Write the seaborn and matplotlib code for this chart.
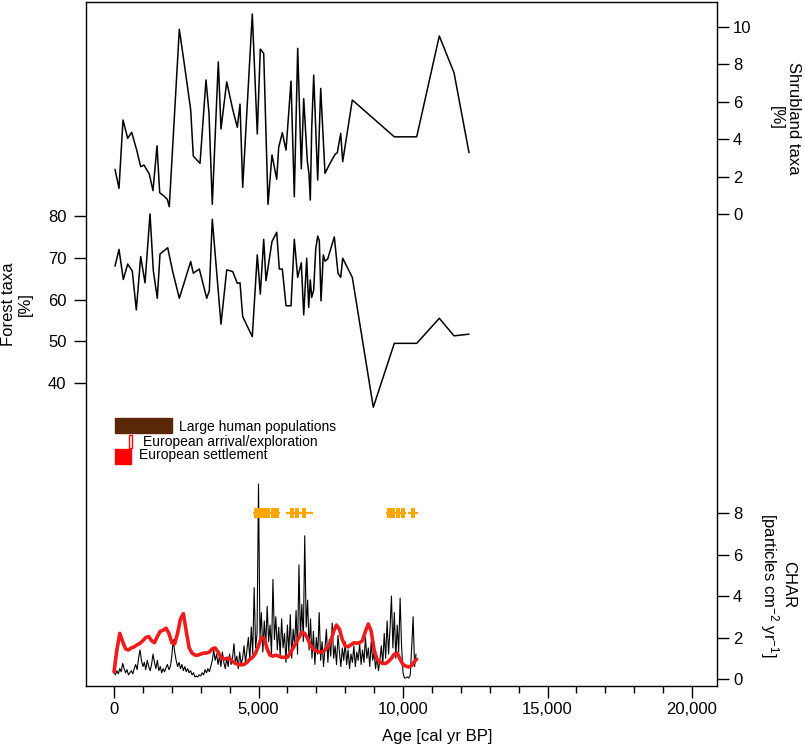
import numpy as np
import matplotlib
matplotlib.use("Agg")
import matplotlib.pyplot as plt
import seaborn as sns
from matplotlib.patches import Rectangle
from matplotlib.ticker import MultipleLocator, FuncFormatter

# ---------------- data ----------------
shrub_age = [35, 173, 311, 474, 612, 785, 924, 1038, 1221, 1349,
             1488, 1581, 1730, 1844, 1913, 2260, 2446, 2654, 2744, 2976,
             3183, 3287, 3401, 3609, 3702, 3900, 4107, 4266, 4360, 4453,
             4785, 4958, 5062, 5180, 5329, 5467, 5630, 5699, 5824, 5952,
             6125, 6239, 6356, 6481, 6564, 6689, 6747, 6792, 6841, 6910,
             7048, 7152, 7301, 7474, 7657, 7727, 7844, 7913, 8246, 9699,
             10474, 11256, 11765, 12284]
shrub_pct = [2.39, 1.37, 5.03, 4.05, 4.37, 3.42, 2.53, 2.62, 2.14, 1.25,
             3.65, 1.14, 0.96, 0.79, 0.39, 9.88, 7.88, 5.56, 3.10, 2.71,
             7.17, 5.39, 0.52, 8.14, 4.55, 7.07, 5.60, 4.64, 5.88, 1.43,
             10.70, 4.28, 8.82, 8.59, 0.52, 3.16, 1.86, 3.57, 4.35, 3.42,
             7.11, 0.93, 8.86, 2.42, 6.17, 2.85, 2.14, 0.75, 4.58, 7.43,
             1.82, 6.72, 2.18, 2.71, 3.21, 3.28, 4.32, 2.80, 6.10, 4.13,
             4.13, 9.52, 7.56, 3.28]

forest_age = [35, 173, 322, 474, 633, 772, 924, 1073, 1246, 1360,
              1498, 1592, 1858, 2031, 2260, 2654, 2744, 2952, 3208, 3298,
              3401, 3702, 3900, 4107, 4266, 4360, 4453, 4785, 4958, 5062,
              5180, 5260, 5467, 5630, 5720, 5824, 5952, 6125, 6239, 6356,
              6481, 6564, 6668, 6737, 6792, 6841, 6910, 6979, 7048, 7104,
              7163, 7242, 7301, 7394, 7623, 7751, 7844, 7913, 8246, 8972,
              9699, 10474, 11256, 11765, 12284]
forest_pct = [68.0, 72.0, 64.8, 68.5, 66.8, 57.5, 70.3, 64.0, 80.5, 66.9,
              60.3, 70.9, 72.4, 66.7, 60.3, 69.1, 66.3, 67.3, 60.3, 62.1,
              79.2, 54.1, 67.1, 66.7, 63.9, 64.0, 55.9, 51.1, 70.7, 61.3,
              74.4, 64.5, 73.9, 76.1, 67.3, 67.3, 58.5, 58.5, 74.4, 65.3,
              68.8, 56.3, 69.9, 58.1, 64.7, 60.5, 62.3, 72.0, 75.2, 74.1,
              59.7, 70.7, 69.2, 69.7, 75.0, 66.3, 65.3, 69.9, 65.3, 34.2,
              49.5, 49.5, 55.5, 51.3, 51.7]

# charcoal accumulation rate, 50-yr samples from 0 to 10450 cal yr BP
char_age = np.arange(0, 10451, 50)
char_val = [0.30, 0.20, 0.40, 0.25, 0.50, 0.35, 0.75, 0.50, 0.30, 0.45,
            0.20, 0.30, 0.40, 0.25, 0.50, 0.70, 0.45, 1.00, 1.40, 0.90,
            0.60, 0.80, 0.45, 0.90, 0.60, 0.40, 0.70, 1.20, 0.80, 0.50,
            0.90, 0.40, 0.60, 0.30, 0.50, 0.35, 0.55, 0.70, 0.45, 0.60,
            1.10, 1.90, 1.30, 0.90, 0.60, 0.80, 0.50, 0.70, 0.40, 0.60,
            0.35, 0.50, 0.30, 0.40, 0.20, 0.30, 0.10, 0.15, 0.10, 0.20,
            0.15, 0.30, 0.20, 0.45, 0.30, 0.50, 0.35, 0.60, 0.90, 1.40,
            0.90, 1.20, 0.70, 1.10, 0.60, 1.30, 0.80, 0.50, 1.00, 0.60,
            1.20, 0.70, 1.00, 1.70, 0.80, 1.10, 0.50, 1.30, 0.70, 1.00,
            1.60, 0.80, 1.40, 2.00, 0.90, 2.50, 1.20, 4.40, 1.50, 2.20,
            9.40, 2.00, 3.20, 1.30, 2.80, 1.60, 3.50, 1.80, 2.60, 1.20,
            4.80, 1.90, 3.00, 1.40, 2.50, 1.10, 2.90, 1.50, 2.20, 0.80,
            2.60, 1.30, 3.10, 1.00, 2.40, 1.60, 3.30, 1.20, 5.50, 2.00,
            3.60, 1.80, 6.90, 2.50, 3.80, 1.40, 2.90, 1.00, 2.30, 0.70,
            2.00, 1.20, 3.20, 0.90, 1.80, 0.60, 1.50, 2.40, 0.80, 1.90,
            1.10, 2.70, 1.00, 1.60, 0.70, 2.10, 1.30, 0.60, 1.50, 0.90,
            1.80, 0.70, 1.40, 0.50, 1.20, 0.80, 1.60, 0.60, 1.30, 0.90,
            1.70, 0.70, 1.40, 0.80, 2.00, 1.00, 1.50, 0.60, 1.80, 0.90,
            1.30, 0.50, 1.10, 0.40, 0.90, 1.60, 0.70, 2.20, 1.00, 2.80,
            1.20, 2.40, 4.00, 1.50, 3.20, 1.00, 2.60, 1.30, 3.90, 1.60,
            0.30, 0.05, 0.05, 0.10, 0.05, 0.20, 1.50, 3.00, 0.60, 1.20]

# smoothed CHAR (red curve)
smooth_age = list(range(0, 10401, 100)) + [10470]
smooth_val = [0.35, 1.40, 2.20, 1.80, 1.45, 1.40, 1.50, 1.55, 1.65, 1.72,
              1.85, 2.00, 2.05, 1.85, 1.75, 2.05, 2.30, 2.35, 2.45, 2.20,
              1.75, 1.70, 2.20, 2.90, 3.15, 2.30, 1.50, 1.25, 1.15, 1.15,
              1.20, 1.25, 1.25, 1.30, 1.45, 1.50, 1.30, 1.05, 0.95, 1.00,
              1.00, 0.85, 0.75, 0.70, 0.68, 0.70, 0.80, 0.95, 1.05, 1.25,
              1.60, 2.00, 1.95, 1.45, 1.15, 1.10, 1.15, 1.10, 1.05, 1.05,
              1.05, 1.25, 1.50, 1.75, 2.00, 2.25, 2.20, 1.95, 1.60, 1.45,
              1.35, 1.30, 1.30, 1.40, 1.55, 1.80, 2.30, 2.60, 2.40, 1.90,
              1.60, 1.55, 1.65, 1.75, 1.72, 1.75, 1.85, 2.30, 2.65, 2.30,
              1.40, 0.95, 0.82, 0.75, 0.75, 0.85, 1.00, 1.20, 1.25, 0.95,
              0.70, 0.62, 0.58, 0.65, 0.85, 0.95]

# dated samples (orange)
date_age = [4913, 5052, 5190, 5329, 5491, 5630, 6148, 6321, 6574,
            9526, 9664, 9837, 9990, 10356]
date_err = [110, 110, 110, 110, 110, 110, 200, 150, 300,
            120, 120, 120, 120, 170]
date_level = [8] * len(date_age)

# cultural periods
period_names = ["Large human populations", "European arrival/exploration",
                "European settlement"]
period_start = [35, 530, 35]
period_end = [1997, 633, 578]

forest_ticks = [40, 50, 60, 70, 80]
shrub_ticks = [0, 2, 4, 6, 8, 10]
char_ticks = [0, 2, 4, 6, 8]

# ---------------- style ----------------
sns.set_style("ticks")
plt.rcParams['font.family'] = ['Liberation Sans', 'DejaVu Sans']
plt.rcParams['mathtext.fontset'] = 'custom'
plt.rcParams['mathtext.rm'] = 'Liberation Sans'
plt.rcParams['mathtext.it'] = 'Liberation Sans:italic'
plt.rcParams['mathtext.bf'] = 'Liberation Sans:bold'
plt.rcParams['text.color'] = 'black'
plt.rcParams['axes.edgecolor'] = 'black'
plt.rcParams['xtick.color'] = 'black'
plt.rcParams['ytick.color'] = 'black'

W, H = 805, 748
fig = plt.figure(figsize=(W / 100, H / 100), dpi=100)
ax = fig.add_axes([86 / W, 62 / H, 631 / W, 684 / H])
ax_sh = ax.twinx()
ax_ch = ax.twinx()

RED = '#EE1C1C'
ORANGE = '#FFA500'

sns.lineplot(x=forest_age, y=forest_pct, ax=ax, color='black', linewidth=1.1,
             estimator=None, sort=False)
sns.lineplot(x=shrub_age, y=shrub_pct, ax=ax_sh, color='black', linewidth=1.1,
             estimator=None, sort=False)
sns.lineplot(x=char_age, y=char_val, ax=ax_ch, color='black', linewidth=0.8,
             estimator=None, sort=False)
sns.lineplot(x=smooth_age, y=smooth_val, ax=ax_ch, color=RED, linewidth=2.6,
             estimator=None, sort=False)
bar_marker = [(-0.45, -1), (0.45, -1), (0.45, 1), (-0.45, 1), (-0.45, -1)]
ax_ch.errorbar(date_age, date_level, xerr=date_err, fmt='none',
               ecolor=ORANGE, elinewidth=1.6, capsize=0, zorder=5)
sns.scatterplot(x=date_age, y=date_level, ax=ax_ch, marker=bar_marker, s=45,
                color=ORANGE, edgecolor=ORANGE, linewidth=0, zorder=6)

# limits
ax.set_xlim(-969, 20865)
ax.set_ylim(-32.57, 131.26)
ax_sh.set_ylim(-25.24, 11.34)
ax_ch.set_ylim(-0.337, 32.63)

# spines
for s in ax.spines.values():
    s.set_visible(True)
    s.set_linewidth(1.0)
    s.set_color('black')
for a in (ax_sh, ax_ch):
    for s in a.spines.values():
        s.set_visible(False)

# ticks
ax.xaxis.set_major_locator(MultipleLocator(5000))
ax.xaxis.set_minor_locator(MultipleLocator(1000))
ax.xaxis.set_major_formatter(FuncFormatter(lambda v, p: f"{int(round(v)):,}"))
ax.tick_params(axis='x', which='major', direction='out', length=8.6, width=1.0,
               pad=3, labelsize=12, top=False)
ax.tick_params(axis='x', which='minor', direction='out', length=5, width=1.0,
               top=False)
ax.set_yticks(forest_ticks)
ax.tick_params(axis='y', direction='out', length=9, width=1.0, pad=5,
               labelsize=12, left=True, right=False)
ax_sh.set_yticks(shrub_ticks)
ax_sh.tick_params(axis='y', direction='out', length=8.6, width=1.0, pad=3,
                  labelsize=12, right=True, left=False)
ax_ch.set_yticks(char_ticks)
ax_ch.tick_params(axis='y', direction='out', length=8.6, width=1.0, pad=3,
                  labelsize=12, right=True, left=False)
for a in (ax, ax_sh, ax_ch):
    a.set_xlabel('')
    a.set_ylabel('')

# period boxes (x in data, y in axes fraction)
tr = ax.get_xaxis_transform()
box_y = [0.3694, 0.3475, 0.3246]
box_h = [0.0219, 0.0195, 0.0215]
box_fc = ['#5A2808', 'white', '#FF0000']
box_ec = ['#5A2808', '#FF0000', '#FF0000']
for i in range(3):
    ax.add_patch(Rectangle((period_start[i], box_y[i]),
                           period_end[i] - period_start[i], box_h[i],
                           transform=tr, facecolor=box_fc[i],
                           edgecolor=box_ec[i], linewidth=1.0, zorder=3))
text_x = [2249, 1014, 875]
text_y = [0.3782, 0.3563, 0.3377]
for i in range(3):
    ax.text(text_x[i], text_y[i], period_names[i], transform=tr, fontsize=10,
            va='center', ha='left')

# axis labels
fig.text(17 / W, 1 - 304 / H, "Forest taxa\n[%]", rotation=90, ha='center',
         va='center', multialignment='center', fontsize=12)
fig.text(785 / W, 1 - 118 / H, "Shrubland taxa\n[%]", rotation=270,
         ha='center', va='center', multialignment='center', fontsize=12)
fig.text(777 / W, 1 - 585 / H,
         "CHAR\n[particles cm$^{-2}$ yr$^{-1}$]", rotation=270,
         ha='center', va='center', multialignment='center', fontsize=12,
         linespacing=1.0)
fig.text(437 / W, 1 - 737 / H, "Age [cal yr BP]", ha='center', va='center',
         fontsize=12)

fig.savefig('out.png', dpi=100)
